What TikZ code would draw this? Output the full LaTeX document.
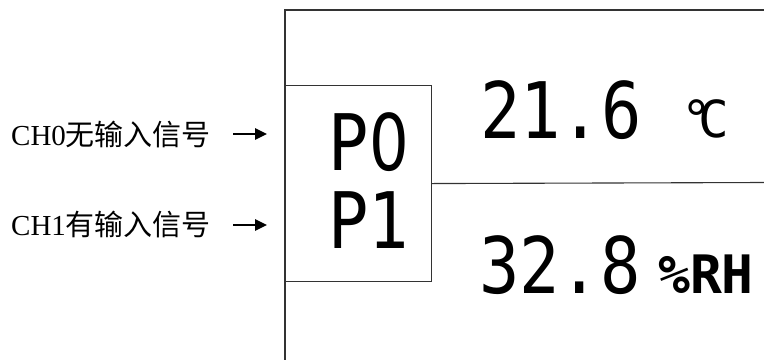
\documentclass[tikz,border=0pt]{standalone}
\usepackage{fontspec}
\usetikzlibrary{arrows.meta}
\newfontfamily\cjk{Noto Sans CJK SC}
\newfontfamily\latinserif{Liberation Serif}
\newfontfamily\lcd[FakeStretch=0.86]{DejaVu Sans Mono}
\newfontfamily\lcdzero[FakeStretch=0.8]{DejaVu Sans}
\newfontfamily\lcdunit{DejaVu Sans Mono}
\begin{document}
\begin{tikzpicture}[x=1pt,y=-1pt,
  frame/.style={draw=black!80, line width=1.1pt},
  chlabel/.style={inner sep=0, anchor=base west, font=\fontsize{29}{29}\selectfont},
  inarrow/.style={line width=2.6pt, -{Triangle[length=12pt,width=11pt]}},
  bigdigits/.style={inner sep=0, anchor=base, font=\lcd\fontsize{78}{78}\selectfont},
  unittext/.style={inner sep=0, anchor=base, font=\lcdunit\fontsize{51}{51}\selectfont},
  unitbold/.style={inner sep=0, anchor=base, font=\lcdunit\bfseries\fontsize{53}{53}\selectfont}]
  \useasboundingbox (0,0) rectangle (764,360);

  % display outline and dividers
  \draw[frame] (764,10) -- (285,10) -- (285,360);
  \node[frame, minimum width=146pt, minimum height=196pt, inner sep=0, anchor=north west]
    (pbox) at (285,85) {};
  \draw[frame] (pbox.east) -- (764,182.5);

  % channel indicators (plain zero, no dot)
  \node[bigdigits] (p0) at (369,170) {P{\lcdzero 0}};
  \node[bigdigits] (p1) at (369,248) {P1};

  % readings
  \node[bigdigits] (temp) at (561,138) {21.6};
  \node[unittext] (degc) at (705,137) {°\kern-14pt C};
  \node[bigdigits] (hum) at (560,293) {32.8};
  \node[unitbold] (rh) at (706,293) {\%RH};

  % input labels with arrows
  \node[chlabel] (ch0) at (11,145) {{\latinserif CH0}{\cjk 无输入信号}};
  \node[chlabel] (ch1) at (11,235) {{\latinserif CH1}{\cjk 有输入信号}};
  \coordinate (a0s) at (233,134);
  \coordinate (a0e) at (267,134);
  \coordinate (a1s) at (233,225);
  \coordinate (a1e) at (267,225);
  \draw[inarrow] (a0s) -- (a0e);
  \draw[inarrow] (a1s) -- (a1e);
\end{tikzpicture}
\end{document}
